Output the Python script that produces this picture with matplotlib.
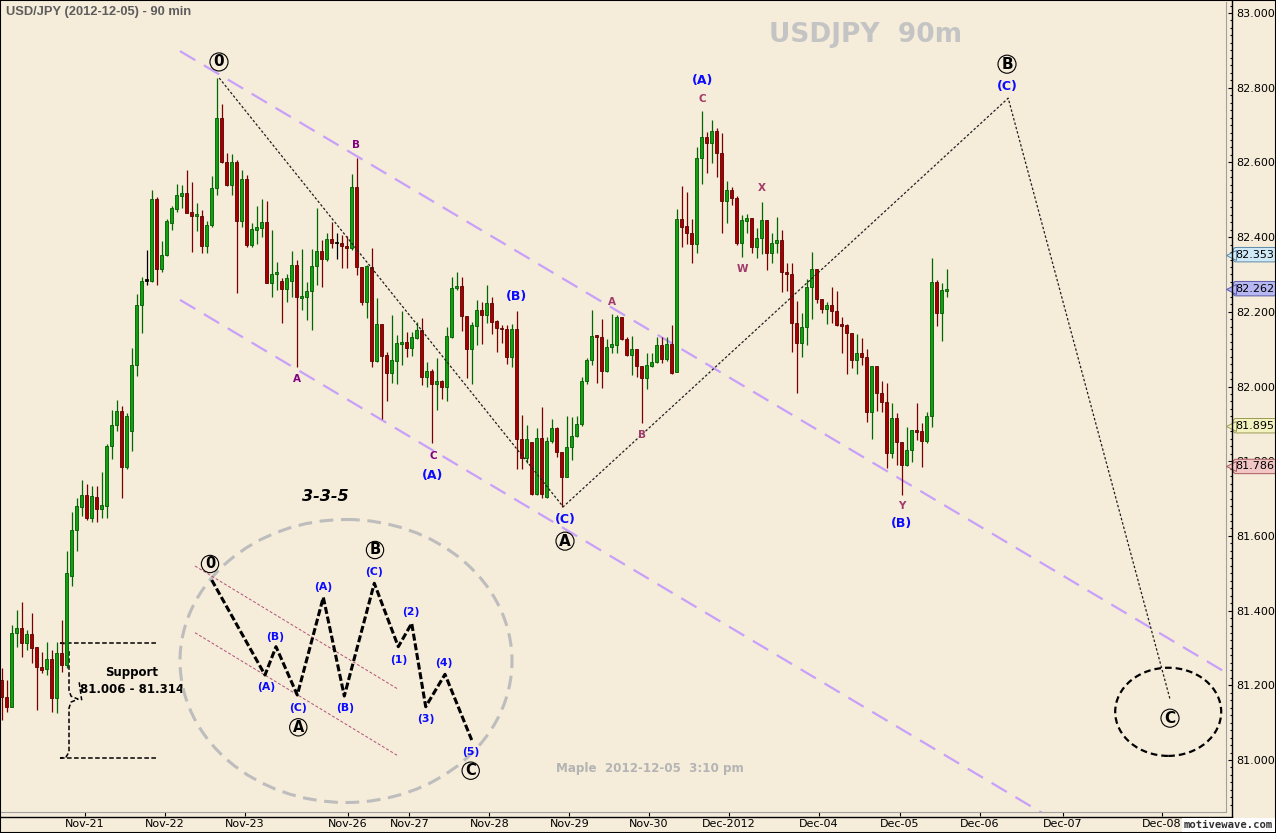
import numpy as np
import matplotlib.pyplot as plt
from matplotlib.patches import Ellipse, Rectangle
from matplotlib.lines import Line2D
from matplotlib.transforms import offset_copy
from matplotlib.ticker import MultipleLocator, FixedLocator, FormatStrFormatter

plt.rcParams['font.family'] = ['DejaVu Sans']

# 90 min candles, USD/JPY 2012-11-20 .. 2012-12-05
opens = [81.215, 81.169, 81.142, 81.340, 81.354, 81.314, 81.338, 81.303, 81.249, 81.244,
         81.271, 81.166, 81.287, 81.255, 81.493, 81.616, 81.678, 81.710, 81.648, 81.705,
         81.672, 81.680, 81.841, 81.897, 81.935, 81.785, 81.881, 82.058, 82.218, 82.283,
         82.283, 82.502, 82.315, 82.352, 82.438, 82.475, 82.510, 82.518, 82.467, 82.457,
         82.457, 82.376, 82.433, 82.532, 82.719, 82.601, 82.540, 82.601, 82.443, 82.556,
         82.379, 82.419, 82.425, 82.441, 82.277, 82.301, 82.283, 82.261, 82.283, 82.326,
         82.237, 82.240, 82.256, 82.323, 82.363, 82.342, 82.395, 82.384, 82.384, 82.376,
         82.371, 82.534, 82.320, 82.227, 82.320, 82.069, 82.168, 82.085, 82.037, 82.069,
         82.114, 82.119, 82.103, 82.130, 82.151, 82.026, 82.042, 82.007, 82.015, 81.999,
         82.133, 82.264, 82.269, 82.189, 82.101, 82.162, 82.205, 82.192, 82.224, 82.176,
         82.157, 82.154, 82.079, 82.154, 81.860, 81.809, 81.852, 81.712, 81.862, 81.705,
         81.854, 81.889, 81.825, 81.758, 81.838, 81.868, 81.900, 82.015, 82.071, 82.135,
         82.133, 82.042, 82.106, 82.111, 82.186, 82.127, 82.085, 82.101, 82.055, 82.023,
         82.055, 82.066, 82.111, 82.074, 82.114, 82.039, 82.449, 82.430, 82.411, 82.382,
         82.612, 82.668, 82.652, 82.684, 82.625, 82.497, 82.526, 82.505, 82.384, 82.443,
         82.451, 82.374, 82.398, 82.446, 82.358, 82.384, 82.393, 82.307, 82.301, 82.170,
         82.117, 82.159, 82.267, 82.315, 82.235, 82.208, 82.219, 82.202, 82.168, 82.165,
         82.144, 82.071, 82.090, 82.079, 81.932, 82.055, 81.983, 81.959, 81.822, 81.916,
         81.852, 81.790, 81.830, 81.884, 81.881, 81.854, 81.921, 82.280, 82.197, 82.256]
highs = [81.247, 81.215, 81.362, 81.402, 81.423, 81.349, 81.394, 81.303, 81.290, 81.316,
         81.295, 81.316, 81.375, 81.560, 81.664, 81.702, 81.750, 81.739, 81.734, 81.734,
         81.771, 81.846, 81.937, 81.964, 81.948, 81.929, 82.103, 82.248, 82.293, 82.366,
         82.526, 82.508, 82.390, 82.449, 82.484, 82.542, 82.540, 82.580, 82.548, 82.491,
         82.473, 82.443, 82.564, 82.826, 82.757, 82.625, 82.623, 82.607, 82.580, 82.567,
         82.438, 82.484, 82.502, 82.497, 82.419, 82.334, 82.291, 82.301, 82.363, 82.339,
         82.368, 82.280, 82.368, 82.478, 82.393, 82.411, 82.441, 82.411, 82.406, 82.403,
         82.569, 82.612, 82.320, 82.326, 82.371, 82.237, 82.168, 82.093, 82.192, 82.138,
         82.202, 82.146, 82.146, 82.173, 82.184, 82.066, 82.047, 82.077, 82.018, 82.159,
         82.293, 82.307, 82.293, 82.189, 82.173, 82.232, 82.227, 82.272, 82.240, 82.178,
         82.165, 82.165, 82.168, 82.202, 81.924, 81.897, 81.852, 81.889, 81.945, 81.865,
         81.913, 81.892, 81.825, 81.921, 81.919, 81.921, 82.026, 82.077, 82.205, 82.138,
         82.181, 82.127, 82.194, 82.192, 82.186, 82.133, 82.135, 82.101, 82.055, 82.090,
         82.090, 82.133, 82.133, 82.133, 82.165, 82.475, 82.537, 82.521, 82.449, 82.641,
         82.738, 82.681, 82.714, 82.692, 82.679, 82.550, 82.534, 82.510, 82.459, 82.462,
         82.451, 82.425, 82.494, 82.446, 82.411, 82.454, 82.419, 82.331, 82.331, 82.229,
         82.197, 82.288, 82.360, 82.315, 82.235, 82.227, 82.267, 82.256, 82.186, 82.168,
         82.144, 82.141, 82.130, 82.101, 82.055, 82.055, 82.015, 82.010, 81.956, 81.929,
         81.852, 81.892, 81.884, 81.956, 81.903, 81.932, 82.345, 82.285, 82.277, 82.315]
lows = [81.108, 81.129, 81.142, 81.303, 81.276, 81.295, 81.260, 81.134, 81.233, 81.228,
        81.129, 81.126, 81.236, 81.247, 81.466, 81.560, 81.654, 81.643, 81.638, 81.638,
        81.648, 81.648, 81.806, 81.881, 81.702, 81.780, 81.828, 82.028, 82.144, 82.272,
        82.280, 82.272, 82.307, 82.350, 82.419, 82.467, 82.478, 82.465, 82.360, 82.416,
        82.358, 82.358, 82.427, 82.513, 82.599, 82.537, 82.513, 82.251, 82.427, 82.374,
        82.374, 82.382, 82.401, 82.277, 82.240, 82.259, 82.170, 82.227, 82.240, 82.053,
        82.205, 82.178, 82.151, 82.272, 82.267, 82.336, 82.371, 82.342, 82.318, 82.318,
        82.366, 82.299, 82.219, 82.184, 82.053, 82.066, 81.913, 81.962, 82.010, 82.007,
        82.058, 82.079, 82.082, 82.127, 82.004, 81.999, 81.849, 81.937, 81.967, 81.962,
        82.130, 82.259, 82.149, 82.023, 82.007, 82.111, 82.114, 82.170, 82.141, 82.093,
        82.117, 82.060, 82.053, 81.780, 81.780, 81.795, 81.710, 81.710, 81.702, 81.702,
        81.849, 81.812, 81.678, 81.758, 81.804, 81.865, 81.895, 82.007, 82.058, 82.010,
        81.996, 82.039, 82.090, 82.090, 82.125, 82.082, 82.031, 82.026, 81.903, 81.994,
        82.053, 82.063, 82.063, 82.069, 82.034, 82.039, 82.374, 82.382, 82.331, 82.358,
        82.542, 82.572, 82.599, 82.561, 82.411, 82.438, 82.486, 82.379, 82.347, 82.411,
        82.358, 82.344, 82.355, 82.312, 82.331, 82.358, 82.253, 82.256, 82.093, 81.983,
        82.079, 82.111, 82.181, 82.224, 82.197, 82.168, 82.170, 82.162, 82.090, 82.034,
        82.050, 82.034, 82.058, 81.905, 81.860, 81.935, 81.932, 81.782, 81.809, 81.790,
        81.710, 81.787, 81.798, 81.857, 81.785, 81.849, 81.892, 82.162, 82.122, 82.240]
closes = [81.169, 81.142, 81.340, 81.354, 81.314, 81.338, 81.300, 81.249, 81.241, 81.271,
          81.166, 81.287, 81.255, 81.501, 81.616, 81.680, 81.710, 81.648, 81.707, 81.672,
          81.683, 81.841, 81.897, 81.935, 81.785, 81.921, 82.058, 82.218, 82.283, 82.283,
          82.502, 82.315, 82.352, 82.443, 82.478, 82.513, 82.518, 82.465, 82.457, 82.462,
          82.376, 82.433, 82.532, 82.719, 82.601, 82.540, 82.601, 82.443, 82.556, 82.379,
          82.422, 82.427, 82.441, 82.277, 82.301, 82.307, 82.261, 82.291, 82.326, 82.240,
          82.243, 82.256, 82.323, 82.363, 82.342, 82.395, 82.384, 82.384, 82.376, 82.371,
          82.534, 82.320, 82.227, 82.323, 82.069, 82.168, 82.082, 82.037, 82.071, 82.117,
          82.119, 82.103, 82.133, 82.151, 82.026, 82.042, 82.007, 82.015, 81.999, 82.135,
          82.264, 82.269, 82.189, 82.101, 82.165, 82.205, 82.192, 82.224, 82.173, 82.157,
          82.154, 82.079, 82.154, 81.860, 81.809, 81.860, 81.712, 81.862, 81.712, 81.854,
          81.889, 81.825, 81.758, 81.838, 81.868, 81.900, 82.015, 82.071, 82.135, 82.133,
          82.042, 82.106, 82.114, 82.186, 82.127, 82.085, 82.101, 82.055, 82.023, 82.058,
          82.066, 82.111, 82.074, 82.114, 82.037, 82.449, 82.427, 82.411, 82.382, 82.612,
          82.668, 82.652, 82.684, 82.625, 82.497, 82.526, 82.505, 82.384, 82.446, 82.451,
          82.374, 82.398, 82.446, 82.358, 82.384, 82.393, 82.307, 82.301, 82.170, 82.117,
          82.159, 82.267, 82.315, 82.235, 82.208, 82.219, 82.202, 82.165, 82.162, 82.144,
          82.071, 82.090, 82.079, 81.932, 82.055, 81.983, 81.959, 81.822, 81.916, 81.852,
          81.790, 81.830, 81.884, 81.878, 81.854, 81.921, 82.280, 82.197, 82.259, 82.262]

# date ticks (in bar units, weekends squeezed)
date_pos = [16.56, 32.56, 48.56, 69.22, 81.54, 97.54, 113.54, 129.46,
            145.46, 163.46, 179.66, 195.66, 212.26, 232.06]
date_labels = ['Nov-21', 'Nov-22', 'Nov-23', 'Nov-26', 'Nov-27', 'Nov-28', 'Nov-29',
               'Nov-30', 'Dec-2012', 'Dec-04', 'Dec-05', 'Dec-06', 'Dec-07', 'Dec-08']

# elliott wave count (bar, price)
wave_x = [43.5, 112.3, 201.3, 233.7]
wave_y = [82.826, 81.678, 82.772, 81.161]
chan_top_x, chan_top_y = [35.66, 245.0], [82.898, 81.233]
chan_bot_x, chan_bot_y = [35.66, 212.0], [82.232, 80.827]
support_lo, support_hi = 81.006, 81.314

blue_labels = [('(A)', 86.26, 81.763), ('(B)', 102.86, 82.240), ('(C)', 112.66, 81.643),
               ('(A)', 140.26, 82.818), ('(B)', 179.86, 81.632), ('(C)', 201.06, 82.802)]
purple_labels = [('B', 70.86, 82.647), ('A', 59.06, 82.020), ('C', 86.26, 81.814)]
maroon_labels = [('A', 122.06, 82.226), ('B', 128.06, 81.870), ('C', 140.06, 82.770),
                 ('X', 152.06, 82.531), ('W', 148.06, 82.315), ('Y', 180.06, 81.680)]
circled_labels = [('0', 43.46, 82.869), ('A', 112.66, 81.586), ('B', 201.06, 82.863),
                  ('C', 233.66, 81.112)]

flag_values = [82.353, 82.262, 81.895, 81.786]
flag_faces = ['#cfe9f7', '#b6b6f2', '#f3f3bf', '#f3c6c6']
flag_edges = ['#5a88a8', '#5a5aa8', '#9a9a55', '#a85a5a']

# 3-3-5 flat sketch (inset units)
sketch_x = [41.7, 95, 106, 127.3, 153.3, 174.3, 204.3, 228.3, 241.7, 255.7, 275, 301.7]
sketch_y = [100, 195, 166.7, 215, 117.3, 216, 103.3, 166.7, 143.3, 226.7, 194.3, 260]
sketch_tags = [('(A)', 96, 207), ('(B)', 105, 156.7), ('(C)', 127.7, 228.3), ('(A)', 153.3, 106.7),
               ('(B)', 175, 228.3), ('(C)', 204.3, 91.7), ('(1)', 228.3, 180), ('(2)', 240.7, 132.3),
               ('(3)', 255.7, 239.3), ('(4)', 274.3, 183.3), ('(5)', 300.7, 271.7)]
sketch_circled = [('0', 40, 84), ('A', 128.3, 247.3), ('B', 205, 70), ('C', 300.7, 290.7)]

bg = '#f5ecda'
fig = plt.figure(figsize=(12.76, 8.33), dpi=100, facecolor=bg)
ax = fig.add_axes([1 / 1276, 21 / 833, 1225 / 1276, 810 / 833])
ax.set_facecolor(bg)

o = np.array(opens)
h = np.array(highs)
l = np.array(lows)
c = np.array(closes)
x = np.arange(len(o))
up = c > o
dn = c < o
body_col = np.where(up, '#10a010', np.where(dn, '#a80000', '#000000'))
edge_col = np.where(up, '#005a00', np.where(dn, '#5a0000', '#000000'))
wick_col = np.where(up, '#006800', np.where(dn, '#780000', '#000000'))

ax.vlines(x, l, h, colors=wick_col, lw=0.9, zorder=3)
ax.bar(x, np.maximum(np.abs(c - o), 0.004), 0.66, np.minimum(o, c),
       color=body_col, edgecolor=edge_col, linewidth=0.6, zorder=4)

# channel
ax.plot(chan_top_x, chan_top_y, color='#c8a0fa', lw=1.6, dashes=(8, 4.5), zorder=2)
ax.plot(chan_bot_x, chan_bot_y, color='#c8a0fa', lw=1.6, dashes=(8, 4.5), zorder=2)

# wave path
ax.plot(wave_x, wave_y, color='#202020', lw=0.9, dashes=(2, 1.6), zorder=5)
ax.add_patch(Ellipse((233.3, 81.129), 21.2, 0.236, fill=False, ec='black', lw=1.6,
                     ls=(0, (3, 1.8)), zorder=5))

# support bracket
ax.plot([11.66, 31.3], [support_hi, support_hi], color='black', lw=1.1, dashes=(3, 1.6))
ax.plot([11.66, 31.3], [support_lo, support_lo], color='black', lw=1.1, dashes=(3, 1.6))
ax.plot([11.66, 12.86, 13.46, 13.46, 13.86, 15.26, 13.86, 13.46, 13.46, 12.86, 11.66],
        [81.313, 81.311, 81.295, 81.187, 81.171, 81.163, 81.155, 81.139, 81.021, 81.008, 81.005],
        color='black', lw=1.1, dashes=(3, 1.6))
ax.plot([15.5, 16.0], [81.208, 81.160], color='black', lw=1.1, dashes=(3, 1.6))
ax.text(26.06, 81.233, 'Support', ha='center', va='center', fontsize=8.5, fontweight='bold')
ax.text(26.06, 81.190, '81.006 - 81.314', ha='center', va='center', fontsize=8.5, fontweight='bold')

for s, bx, by in blue_labels:
    ax.text(bx, by, s, color='#0a0aff', fontsize=9, fontweight='bold', ha='center', va='center', zorder=6)
for s, bx, by in purple_labels:
    ax.text(bx, by, s, color='#800080', fontsize=7.5, fontweight='bold', ha='center', va='center', zorder=6)
for s, bx, by in maroon_labels:
    ax.text(bx, by, s, color='#a03a6a', fontsize=7.5, fontweight='bold', ha='center', va='center', zorder=6)
for s, bx, by in circled_labels:
    ax.text(bx, by, s, color='black', fontsize=11, fontweight='bold', ha='center', va='center', zorder=6,
            bbox=dict(boxstyle='circle,pad=0.1', fc='none', ec='black', lw=0.8))

ax.text(0.706, 0.959, 'USDJPY  90m', transform=ax.transAxes, ha='center', va='center',
        fontsize=19, fontweight='bold', color='#c4c4c4')
ax.text(0.530, 0.054, 'Maple  2012-12-05  3:10 pm', transform=ax.transAxes, ha='center', va='center',
        fontsize=8.6, fontweight='bold', color='#b4b4b4')

ax.set_xlim(-0.14, 244.86)
ax.set_ylim(80.8608, 83.0295)

for side in ['left', 'top', 'right', 'bottom']:
    ax.spines[side].set_visible(False)
ax.spines['right'].set_position(('outward', 4.3))
ax.spines['bottom'].set_position(('outward', 2.9))
ax.yaxis.tick_right()
ax.yaxis.set_major_locator(MultipleLocator(0.2))
ax.yaxis.set_minor_locator(MultipleLocator(0.02))
ax.yaxis.set_major_formatter(FormatStrFormatter('%.3f'))
ax.tick_params(axis='y', which='major', direction='in', length=3.2, width=0.8, pad=3, labelsize=8)
ax.tick_params(axis='y', which='minor', direction='in', length=1.8, width=0.8)
ax.xaxis.set_major_locator(FixedLocator(date_pos))
ax.set_xticklabels(date_labels)
ax.tick_params(axis='x', which='major', direction='in', length=2.9, width=0.8, pad=2, labelsize=8)

# frame lines
ax.plot([1, 1, 0], [1, 0, 0], transform=ax.transAxes, color='#a0a0a0', lw=0.8, clip_on=False)
fig.add_artist(Line2D([1231.5 / 1276, 1231.5 / 1276], [16.5 / 833, 1], color='black', lw=1.0))
fig.add_artist(Line2D([0, 1231.5 / 1276], [16.5 / 833, 16.5 / 833], color='black', lw=1.0))
fig.add_artist(Rectangle((0, 0), 1, 1, transform=fig.transFigure, fill=False, ec='black', lw=1.5))

# last-value flags on the price scale
tri_tr = offset_copy(ax.get_yaxis_transform(), fig=fig, x=4.5, y=0, units='dots')
for v, fc, ec in zip(flag_values, flag_faces, flag_edges):
    ax.annotate('%.3f' % v, xy=(1, v), xycoords=ax.get_yaxis_transform(), xytext=(6.8, 0),
                textcoords='offset points', ha='left', va='center', fontsize=8,
                bbox=dict(boxstyle='round,pad=0.2,rounding_size=0.25', fc=fc, ec=ec, lw=0.7),
                annotation_clip=False, zorder=10)
    ax.plot([1.0], [v], marker='<', ms=7, mfc=fc, mec=ec, mew=0.7, transform=tri_tr,
            clip_on=False, zorder=11)

fig.text(6 / 1276, 1 - 12 / 833, 'USD/JPY (2012-12-05) - 90 min', ha='left', va='center',
         fontsize=9.3, fontweight='bold', color='#5c5c5c', family='Liberation Sans')
fig.text(1273 / 1276, 8 / 833, 'motivewave.com', ha='right', va='center', fontsize=7.6,
         fontweight='bold', color='#303030', family='DejaVu Sans Mono',
         bbox=dict(boxstyle='square,pad=0.15', fc='white', ec='none'))

# 3-3-5 sketch
ins = fig.add_axes([170 / 1276, 23 / 833, 350 / 1276, 330 / 833])
ins.set_xlim(0, 350)
ins.set_ylim(330, 0)
ins.axis('off')
ins.patch.set_alpha(0)
ins.add_patch(Ellipse((176, 181), 332, 283, fill=False, ec='#bdbdbd', lw=2.2, ls=(0, (4.5, 2.5))))
ins.plot([25, 228.3], [86, 209.3], color='#b0507a', lw=0.7, dashes=(3, 2))
ins.plot([25, 228.3], [152.7, 276], color='#b0507a', lw=0.7, dashes=(3, 2))
ins.plot(sketch_x, sketch_y, color='black', lw=2.2, dashes=(2.3, 0.9), solid_capstyle='butt')
for s, sx, sy in sketch_tags:
    ins.text(sx, sy, s, color='#0a0aff', fontsize=7.8, fontweight='bold', ha='center', va='center')
for s, sx, sy in sketch_circled:
    ins.text(sx, sy, s, color='black', fontsize=10.5, fontweight='bold', ha='center', va='center',
             bbox=dict(boxstyle='circle,pad=0.08', fc='none', ec='black', lw=0.8))
ins.text(155, 16.7, '3-3-5', ha='center', va='center', fontsize=11.5, fontweight='bold', style='italic')

fig.savefig('out.png', dpi=100, facecolor=bg)
